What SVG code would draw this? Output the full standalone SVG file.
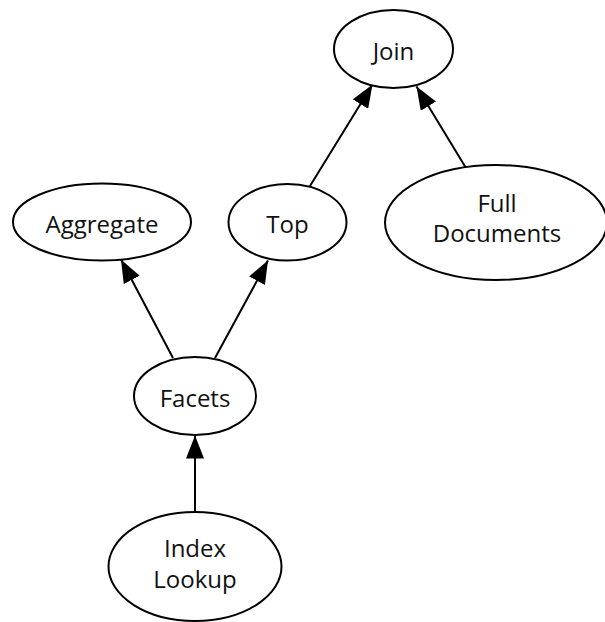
<svg xmlns="http://www.w3.org/2000/svg" width="605" height="622" viewBox="0 0 605 622">
<style>
.node ellipse{fill:#fff;stroke:#000;stroke-width:2}
.node text{font-family:"Open Sans","Noto Sans",sans-serif;font-size:24px;fill:#111;text-anchor:middle}
.edge{stroke:#000;stroke-width:2;fill:none;marker-end:url(#arr)}
</style>
<defs>
<marker id="arr" markerUnits="userSpaceOnUse" markerWidth="24" markerHeight="18" viewBox="0 0 24 18" refX="23" refY="9" orient="auto">
<path d="M0,0 L23,9 L0,18 z" fill="#000"/>
</marker>
</defs>
<rect width="605" height="622" fill="#fff"/>
<g id="connectors">
<line class="edge" x1="310" y1="186" x2="372.5" y2="84.5"/>
<line class="edge" x1="466" y1="168" x2="416.5" y2="86.5"/>
<line class="edge" x1="173" y1="358" x2="121" y2="259.5"/>
<line class="edge" x1="215" y1="358" x2="268" y2="260.5"/>
<line class="edge" x1="195" y1="512" x2="195" y2="435.5"/>
</g>
<g id="join" class="node"><ellipse cx="393.5" cy="49" rx="59.5" ry="39"/><text x="393.5" y="60">Join</text></g>
<g id="aggregate" class="node"><ellipse cx="102" cy="222" rx="89" ry="38.5"/><text x="102" y="233">Aggregate</text></g>
<g id="top" class="node"><ellipse cx="287.5" cy="222.3" rx="59" ry="38.3"/><text x="287.5" y="233">Top</text></g>
<g id="fulldocs" class="node"><ellipse cx="496" cy="222.5" rx="111" ry="57.5"/><text x="497" y="212">Full</text><text x="497" y="242">Documents</text></g>
<g id="facets" class="node"><ellipse cx="195" cy="396" rx="61" ry="39"/><text x="195" y="407">Facets</text></g>
<g id="indexlookup" class="node"><ellipse cx="195" cy="566.5" rx="86.5" ry="54.5"/><text x="195" y="557">Index</text><text x="195" y="588">Lookup</text></g>
</svg>
